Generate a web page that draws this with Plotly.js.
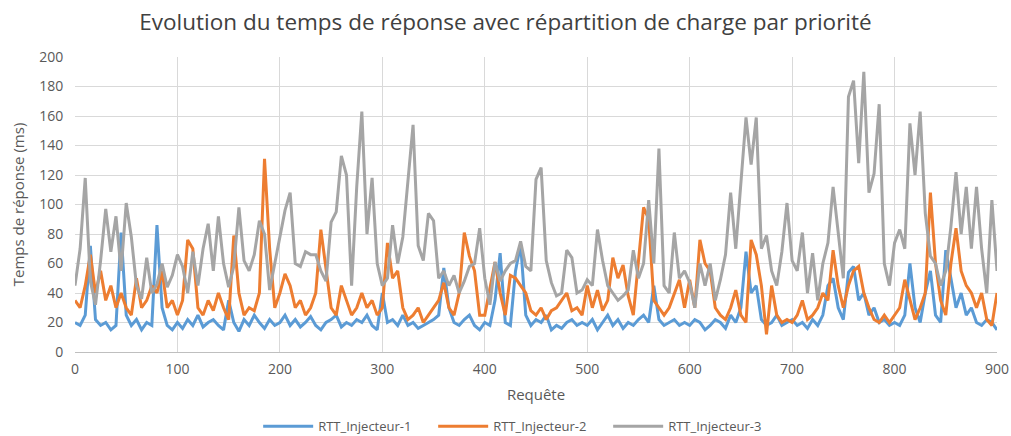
<!DOCTYPE html>
<html>
<head>
<meta charset="utf-8">
<script src="https://cdn.plot.ly/plotly-3.0.1.min.js"></script>
<style>html,body{margin:0;padding:0;background:#fff;}#chart{width:1011px;height:436px;}</style>
</head>
<body>
<div id="chart"></div>
<script>
// Requests sampled every 5 (0..900)
const STEP = 5;
const seriesNames = ["RTT_Injecteur-1", "RTT_Injecteur-2", "RTT_Injecteur-3"];
const xTicks = [0, 100, 200, 300, 400, 500, 600, 700, 800, 900];

const rtt1 = [
  20,18,25,72,22,18,20,15,18,81,25,18,22,15,20,18,86,30,18,15,
  20,16,22,18,25,17,20,22,18,15,35,20,14,22,18,25,20,16,22,18,
  20,25,18,22,17,20,24,18,15,20,22,25,17,20,18,22,20,25,18,15,
  40,20,22,18,25,18,20,16,18,20,22,25,57,30,20,18,22,25,18,15,
  20,18,35,67,20,18,55,73,25,18,22,20,25,15,18,16,20,22,18,20,
  18,22,15,20,25,18,22,16,20,18,22,25,20,45,22,18,20,22,18,20,
  18,22,20,15,18,22,20,16,25,20,30,68,40,45,22,18,20,25,18,20,
  22,18,20,16,22,18,25,45,50,30,22,54,58,35,40,25,30,20,22,18,
  20,18,25,60,30,20,40,55,25,20,69,50,30,40,25,30,20,18,22,20,15
];

const rtt2 = [
  35,30,45,66,40,55,35,45,30,40,30,25,50,30,35,45,40,55,30,35,
  25,35,76,70,30,25,35,28,40,30,22,79,40,25,30,28,40,131,70,30,
  40,53,45,30,35,25,30,40,83,55,30,25,45,35,25,30,40,30,35,25,
  30,74,50,55,30,22,25,30,20,25,30,35,47,30,25,40,81,65,55,25,
  25,44,61,40,25,52,50,45,40,28,25,30,22,28,30,35,40,28,30,25,
  45,30,42,28,35,64,50,59,38,25,60,98,90,35,30,25,30,40,49,30,
  49,30,76,60,55,30,25,22,30,42,25,20,76,66,45,12,45,25,20,22,
  20,25,35,22,25,30,40,35,69,45,30,45,55,58,40,30,22,20,25,20,
  25,30,49,35,22,30,40,108,60,35,25,60,84,55,45,40,30,40,22,18,40
];

const rtt3 = [
  45,70,118,48,32,62,97,68,92,55,101,78,45,36,64,40,46,60,44,52,
  66,58,40,68,45,70,87,55,92,60,44,58,98,62,55,66,89,80,42,60,
  77,96,108,60,58,68,66,66,55,48,88,95,133,120,45,112,163,80,118,60,
  45,50,86,60,78,118,154,72,62,94,89,50,55,45,52,40,48,58,60,84,
  50,32,61,48,55,60,62,75,58,55,117,125,62,47,38,40,69,64,40,42,
  49,45,83,62,45,40,35,38,42,69,50,60,103,60,138,45,40,81,50,55,
  47,30,60,45,60,35,49,66,108,70,117,159,127,159,70,79,55,45,68,101,
  62,55,81,40,67,35,60,74,112,80,50,173,184,128,190,108,121,168,60,45,
  74,83,70,155,120,163,94,65,60,45,55,85,122,80,112,70,112,70,40,103,55
];

const requests = rtt1.map((_, i) => i * STEP);

const colors = ["#5b9bd5", "#ed7d31", "#a5a5a5"];
const allSeries = [rtt1, rtt2, rtt3];

const traces = allSeries.map((vals, k) => ({
  type: "scatter",
  mode: "lines",
  name: seriesNames[k],
  x: requests,
  y: vals,
  line: {color: colors[k], width: 3},
  hoverinfo: "x+y+name"
}));

const fontFam = "'Open Sans', 'Liberation Sans', sans-serif";
const layout = {
  width: 1011,
  height: 436,
  paper_bgcolor: "#ffffff",
  plot_bgcolor: "#ffffff",
  margin: {l: 75, r: 14, t: 57, b: 84},
  font: {family: fontFam, color: "#595959", size: 13},
  title: {
    text: "Evolution du temps de réponse avec répartition de charge par priorité",
    font: {family: fontFam, size: 22.5, color: "#404040"},
    x: 0.5, xanchor: "center", y: 0.95, yanchor: "middle"
  },
  xaxis: {
    range: [0, 900],
    tickvals: xTicks,
    ticktext: xTicks.map(String),
    automargin: false,
    showgrid: true,
    gridcolor: "#d9d9d9",
    gridwidth: 1,
    zeroline: false,
    showline: true,
    linecolor: "#bfbfbf",
    ticks: "outside",
    ticklen: 4,
    tickcolor: "rgba(0,0,0,0)",
    tickfont: {size: 14, color: "#595959"},
    title: {text: "Requête", font: {size: 15, color: "#595959"}, standoff: 12}
  },
  yaxis: {
    range: [0, 200],
    dtick: 20,
    tick0: 0,
    automargin: false,
    showgrid: true,
    gridcolor: "#d9d9d9",
    gridwidth: 1,
    zeroline: false,
    showline: false,
    ticks: "outside",
    ticklen: 8,
    tickcolor: "rgba(0,0,0,0)",
    tickfont: {size: 14, color: "#595959"},
    title: {text: "Temps de réponse (ms)", font: {size: 15, color: "#595959"}, standoff: 10}
  },
  showlegend: true,
  legend: {
    orientation: "h",
    x: 0.515, xanchor: "center", xref: "container",
    y: 0.022, yanchor: "middle", yref: "container",
    font: {size: 13, color: "#595959"},
    traceorder: "normal",
    entrywidth: 110,
    entrywidthmode: "pixels",
    itemwidth: 50,
    tracegroupgap: 0
  }
};

Plotly.newPlot("chart", traces, layout, {staticPlot: true, displayModeBar: false});
</script>
</body>
</html>
